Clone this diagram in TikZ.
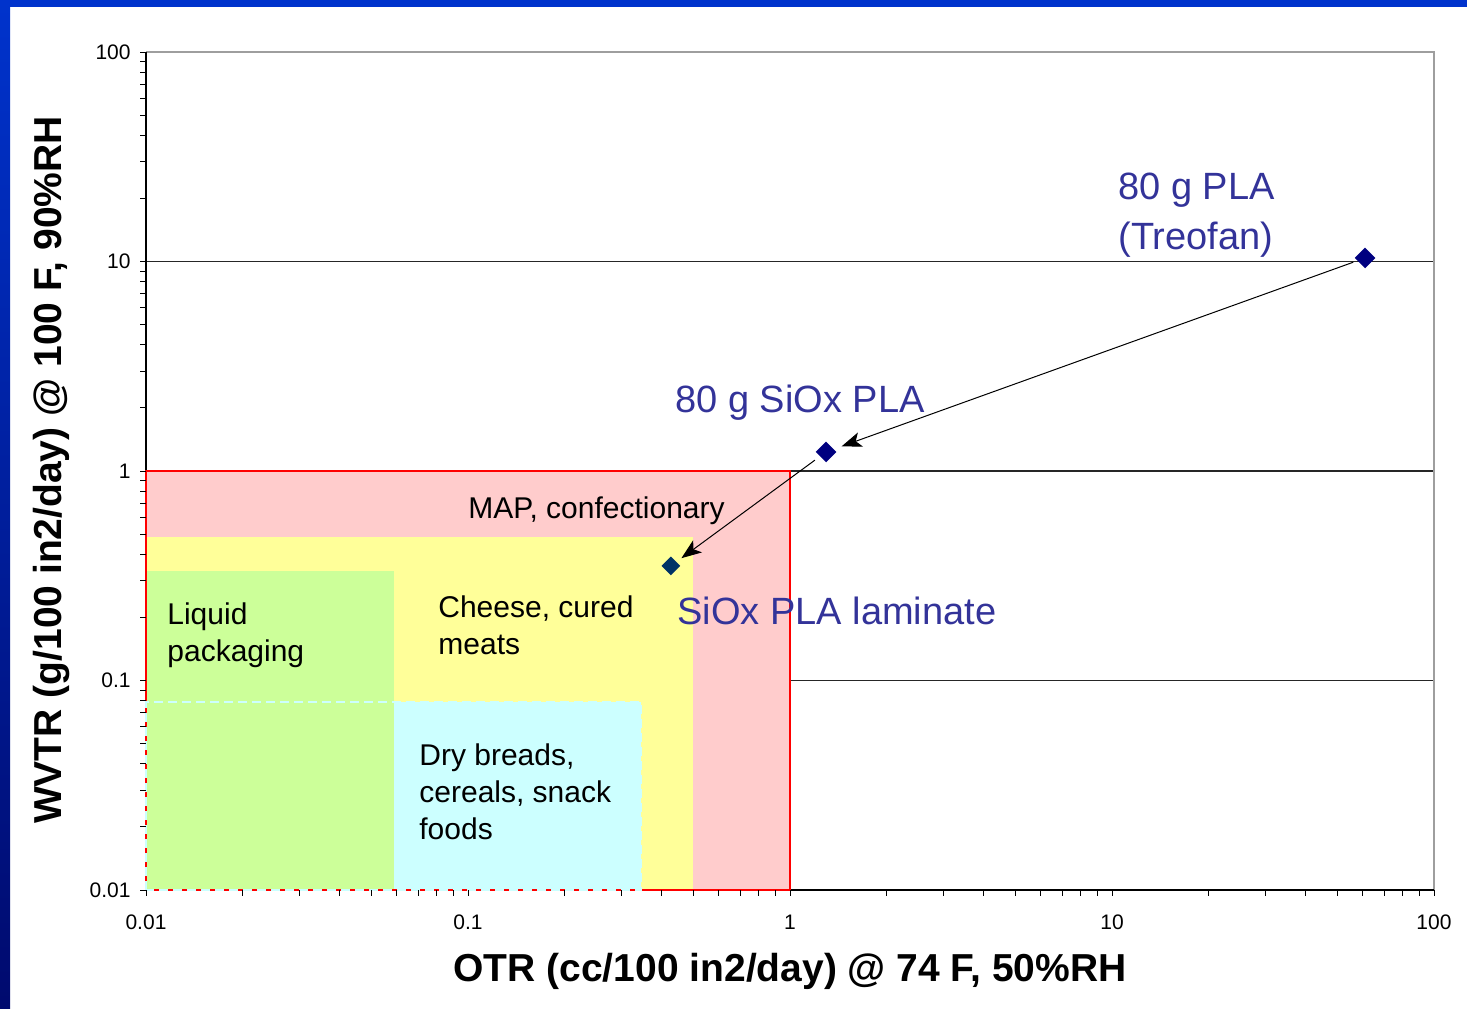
\documentclass[tikz,border=0pt]{standalone}
\usepackage{fontspec}
\setmainfont{Liberation Sans}
\usetikzlibrary{arrows.meta, positioning, shapes.geometric}
\definecolor{framehi}{HTML}{0033CC}
\definecolor{framelo}{HTML}{000A6E}
\definecolor{mapred}{HTML}{FFCCCC}
\definecolor{cheeseyel}{HTML}{FFFF99}
\definecolor{liquidgrn}{HTML}{CCFF99}
\definecolor{breadcyan}{HTML}{CCFFFF}
\definecolor{labelblue}{HTML}{333399}
\definecolor{ptnavy}{HTML}{000080}
\definecolor{ptteal}{HTML}{003366}
\tikzset{
  gridline/.style={draw=black!85, line width=0.6pt},
  plotframe/.style={draw=black!38, line width=1pt},
  axisline/.style={draw=black, line width=0.6pt},
  tickline/.style={draw=black, line width=0.5pt},
  zoneborder/.style={draw=red, line width=1pt},
  cyanborder/.style={draw=breadcyan, line width=1pt, dash pattern=on 4.5pt off 2.5pt},
  ticklabel/.style={font=\fontsize{10.5}{12}\selectfont, inner sep=0pt},
  axistitle/.style={font=\bfseries\fontsize{19.5}{24}\selectfont, inner sep=0pt},
  zonetext/.style={align=left, font=\fontsize{15}{18.5}\selectfont, inner sep=0pt},
  filmtext/.style={align=left, text=labelblue, font=\fontsize{19}{25}\selectfont, inner sep=0pt},
  datapoint/.style={diamond, aspect=1, fill=ptnavy, inner sep=0pt, minimum width=10.5pt, minimum height=10.5pt},
  move/.style={-{Stealth[length=10pt, width=7.5pt, inset=2.5pt]}, line width=0.5pt},
}

\begin{document}
\begin{tikzpicture}[x=0.5pt, y=-0.5pt]
  \useasboundingbox (0,0) rectangle (1467,1008);
  % slide frame
  \fill[framehi] (0,0) rectangle (1467,7);
  \shade[top color=framehi, bottom color=framelo] (0,0) rectangle (10,1008);

  % log-log plot, one unit per decade, origin at (0.01, 0.01)
  \begin{scope}[shift={(146,890)}, x=161pt, y=104.75pt]
    \foreach \g in {1,2,3}
      \draw[gridline] (0,\g) -- (4,\g);
    \draw[plotframe] (0,4) -- (4,4) -- (4,0);
    \draw[axisline] (0,4) -- (0,0) -- (4,0);

    % application zones
    \fill[mapred] (0,0) rectangle (2,2);
    \fill[cheeseyel] (0,0) rectangle (1.699,1.685);
    \fill[breadcyan] (0,0) rectangle (1.537,0.897);
    \fill[liquidgrn] (0,0) rectangle (0.770,1.523);
    \draw[zoneborder] (0,0) rectangle (2,2);
    \draw[cyanborder] (0,0) rectangle (1.537,0.897);

    % ticks
    \foreach \d in {0,...,4} {
      \draw[tickline] (\d,0) -- ++(0,-3pt);
      \draw[tickline] (0,\d) -- ++(-3pt,0);
    }
    \foreach \d in {0,...,3}
      \foreach \m in {2,...,9} {
        \draw[tickline] ({\d+log10(\m)},0) -- ++(0,-3pt);
        \draw[tickline] (0,{\d+log10(\m)}) -- ++(-3pt,0);
      }
    \foreach \d/\t in {0/0.01, 1/0.1, 2/1, 3/10, 4/100} {
      \node[ticklabel, anchor=east, xshift=-7.5pt] (ylab\d) at (0,\d) {\t};
      \node[ticklabel, yshift=-16pt] (xlab\d) at (\d,0) {\t};
    }

    % films
    \node[datapoint] (treo) at (3.786,3.017) {};
    \node[datapoint] (siox) at (2.112,2.091) {};
    \node[datapoint, fill=ptteal, minimum width=9.5pt, minimum height=9.5pt] (lam) at (1.630,1.547) {};
  \end{scope}

  \draw[move, shorten <=2pt, shorten >=4pt] (treo) -- (siox);
  \draw[move, shorten <=3pt, shorten >=3pt] (siox) -- (lam);

  % zone labels
  \node[zonetext, anchor=base west] (maplbl) at (468,518) {MAP, confectionary};
  \node[zonetext, anchor=north west] (liquidlbl) at (167,602) {Liquid\\packaging};
  \node[zonetext, anchor=north west] (cheeselbl) at (438,595) {Cheese, cured\\meats};
  \node[zonetext, anchor=north west] (breadlbl) at (419,743) {Dry breads,\\cereals, snack\\foods};

  % film labels
  \node[filmtext, anchor=north west] (treolbl) at (1118,173) {80 g PLA\\(Treofan)};
  \node[filmtext, anchor=base west] (sioxlbl) at (675,412) {80 g SiOx PLA};
  \node[filmtext, anchor=base west] (lamlbl) at (677,624) {SiOx PLA laminate};

  % axis titles
  \node[axistitle] (otrtitle) at (790,971) {OTR (cc/100 in2/day) @ 74 F, 50\%RH};
  \node[axistitle, rotate=90] (wvtrtitle) at (52,470) {WVTR (g/100 in2/day) @ 100 F, 90\%RH};
\end{tikzpicture}
\end{document}
